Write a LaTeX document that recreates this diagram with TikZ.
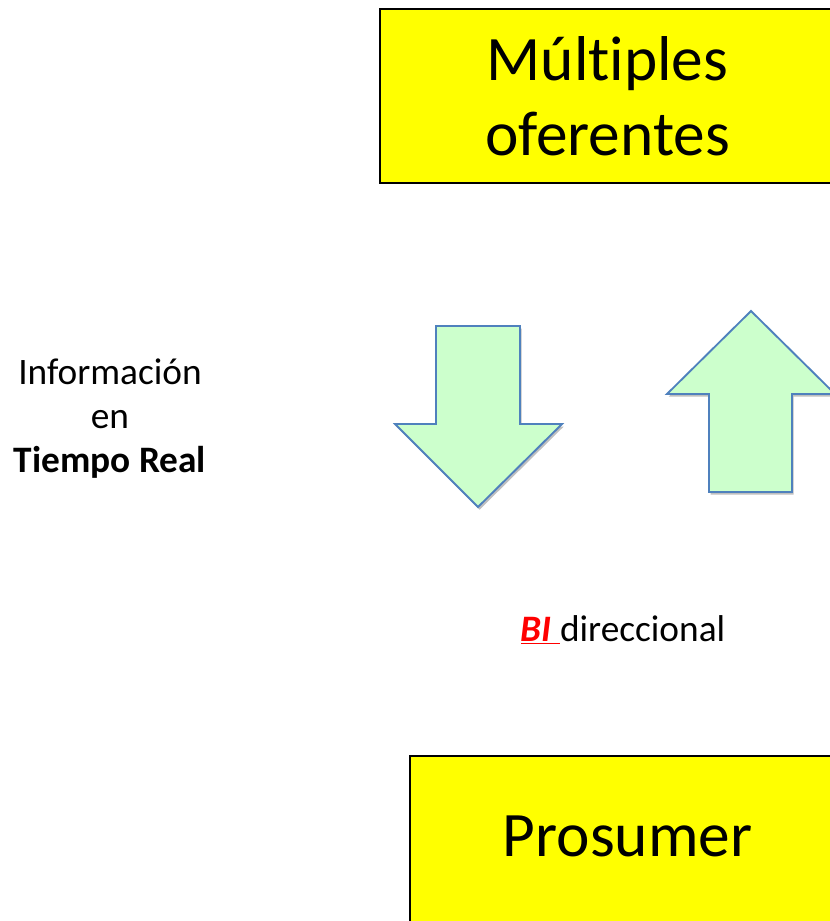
\documentclass[tikz,border=0pt]{standalone}
\usepackage{fontspec}
\setmainfont{Carlito}[Ligatures=NoCommon]
\usetikzlibrary{positioning,shadows}
\definecolor{boxyellow}{RGB}{255,255,0}
\definecolor{arrowgreen}{RGB}{204,255,204}
\definecolor{arrowblue}{RGB}{79,129,189}
\tikzstyle{actor}=[draw=black, line width=1.2pt, fill=boxyellow, align=center, font=\fontsize{47.5}{56}\selectfont]
\tikzstyle{flow}=[draw=arrowblue, line width=1.4pt, fill=arrowgreen, line join=miter, drop shadow={shadow xshift=1.2pt, shadow yshift=-2pt, fill=black, opacity=0.25}]
\tikzstyle{caption}=[align=center, inner sep=0pt, font=\fontsize{28}{33}\selectfont]

\begin{document}
\begin{tikzpicture}[x=0.75pt, y=-0.75pt]
    \useasboundingbox (0,0) rectangle (829,921);

    % the two parties
    \node[actor, minimum width=341.25pt, minimum height=130.5pt] (ofer) at (607.5,96) {Múltiples\\oferentes};
    \node[actor, minimum width=326pt, minimum height=130.5pt, text depth=10pt] (pros) at (627.5,843) {Prosumer};

    % down and up arrows
    \draw[flow] (436,326) -- (520,326) -- (520,424) -- (562,424) -- (478,507) -- (395,424) -- (436,424) -- cycle;
    \draw[flow] (751,311) -- (835,394) -- (792,394) -- (792,492) -- (709,492) -- (709,394) -- (667,394) -- cycle;

    % labels
    \node[caption] (info) at (110,419) {Información\\en\\\textbf{Tiempo Real}};
    \node[caption, anchor=base] (bidir) at (623,641) {\textcolor{red}{\underline{\textbf{\textit{BI}}\ }}direccional};
\end{tikzpicture}
\end{document}
